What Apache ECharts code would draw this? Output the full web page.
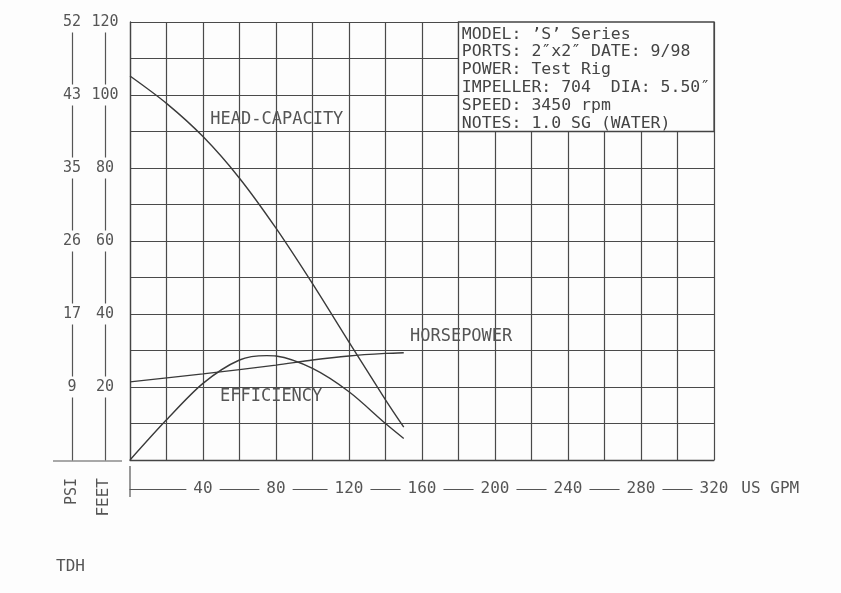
<!DOCTYPE html>
<html>
<head>
<meta charset="utf-8">
<script src="https://cdn.jsdelivr.net/npm/echarts@6/dist/echarts.min.js"></script>
<style>html,body{margin:0;padding:0;background:#fdfdfd;}#c{width:841px;height:593px;}</style>
</head>
<body>
<div id="c"></div>
<script>
// ---- data ----
const headGpm = [0, 20, 40, 60, 80, 100, 120, 140, 150];
const headFt  = [105.2, 97.7, 88.6, 77.2, 63.5, 48.3, 32.3, 16.5, 9];

const effGpm = [0, 20, 40, 60, 75, 80, 100, 120, 140, 150];
const effVal = [0, 11, 21, 27.4, 28.6, 28.5, 25.1, 18.7, 10, 5.9];

const hpGpm = [0, 40, 80, 100, 120, 140, 150];
const hpVal = [21.4, 23.6, 26, 27.4, 28.5, 29.2, 29.4];

const feetTicks = [20, 40, 60, 80, 100, 120];
const psiTicks  = ['9', '17', '26', '35', '43', '52'];
const gpmTicks  = [40, 80, 120, 160, 200, 240, 280, 320];

const infoLines = [
  "MODEL: \u2019S\u2019 Series",
  "PORTS: 2\u2033x2\u2033 DATE: 9/98",
  "POWER: Test Rig",
  "IMPELLER: 704  DIA: 5.50\u2033",
  "SPEED: 3450 rpm",
  "NOTES: 1.0 SG (WATER)"
];

// ---- styling ----
const FONT = 'DejaVu Sans Mono';
const BG = '#fdfdfd';
const INK = '#3a3a3a';
const TXT = '#555';

const zip = (a, b) => a.map((v, i) => [v, b[i]]);

const chart = echarts.init(document.getElementById('c'), null, {renderer: 'canvas'});

const lineStyle = {color: INK, width: 1.4};
const curveLabel = {show: true, position: 'right', distance: 0, color: TXT, fontFamily: FONT, fontSize: 17, formatter: p => p.name};

const option = {
  backgroundColor: BG,
  animation: false,
  grid: {left: 130, top: 22, width: 584, height: 438},
  xAxis: [
    {
      type: 'value', min: 0, max: 320, interval: 20,
      axisLine: {show: true, lineStyle: {color: '#444', width: 1.3}},
      axisTick: {show: false}, axisLabel: {show: false},
      splitLine: {show: true, lineStyle: {color: '#4a4a4a', width: 1.2}}
    },
    {
      type: 'value', min: 0, max: 320, interval: 40, position: 'bottom', offset: 29,
      axisLine: {show: true, onZero: false, lineStyle: {color: '#555', width: 1.2}},
      axisTick: {show: false}, splitLine: {show: false},
      axisLabel: {
        show: true, showMinLabel: false, margin: 0, verticalAlign: 'middle',
        backgroundColor: BG, padding: [3, 7], color: TXT, fontFamily: FONT, fontSize: 16,
        formatter: v => (gpmTicks.indexOf(v) >= 0 ? String(v) : '')
      },
      name: 'US GPM', nameLocation: 'end', nameGap: 26,
      nameTextStyle: {color: TXT, fontFamily: FONT, fontSize: 16, verticalAlign: 'middle'}
    }
  ],
  yAxis: [
    {
      type: 'value', min: 0, max: 120, interval: 10,
      axisLine: {show: true, lineStyle: {color: '#444', width: 1.3}},
      axisTick: {show: false}, axisLabel: {show: false},
      splitLine: {show: true, lineStyle: {color: '#4a4a4a', width: 1.2}}
    },
    {
      type: 'value', min: 0, max: 120, interval: 20, position: 'left', offset: 25,
      axisLine: {show: true, onZero: false, lineStyle: {color: '#555', width: 1.2}},
      axisTick: {show: false}, splitLine: {show: false},
      axisLabel: {
        show: true, showMinLabel: false, margin: 0, align: 'center',
        backgroundColor: BG, padding: [3, 1], color: TXT, fontFamily: FONT, fontSize: 15,
        formatter: v => (feetTicks.indexOf(v) >= 0 ? String(v) : '')
      }
    },
    {
      type: 'value', min: 0, max: 120, interval: 20, position: 'left', offset: 58,
      axisLine: {show: true, onZero: false, lineStyle: {color: '#555', width: 1.2}},
      axisTick: {show: false}, splitLine: {show: false},
      axisLabel: {
        show: true, showMinLabel: false, margin: 0, align: 'center',
        backgroundColor: BG, padding: [3, 1], color: TXT, fontFamily: FONT, fontSize: 15,
        formatter: v => { const i = feetTicks.indexOf(v); return i >= 0 ? psiTicks[i] : ''; }
      }
    }
  ],
  series: [
    {
      name: 'Head-Capacity', type: 'line', xAxisIndex: 0, yAxisIndex: 0,
      data: zip(headGpm, headFt), smooth: 0.3, showSymbol: false, symbol: 'none',
      lineStyle: lineStyle, z: 3,
      markPoint: {
        symbol: 'circle', symbolSize: 0, label: curveLabel,
        data: [{name: 'HEAD-CAPACITY', coord: [44, 93.2]}]
      },
      markArea: {
        silent: true,
        itemStyle: {color: BG, borderColor: '#444', borderWidth: 1.3, opacity: 1},
        label: {
          show: true, position: 'insideTopLeft', distance: 4,
          color: '#444', fontFamily: FONT, fontSize: 16.5, lineHeight: 17.8,
          formatter: () => infoLines.join('\n')
        },
        data: [[{coord: [180, 120]}, {coord: [320, 90]}]]
      }
    },
    {
      name: 'Efficiency', type: 'line', xAxisIndex: 0, yAxisIndex: 0,
      data: zip(effGpm, effVal), smooth: 0.3, showSymbol: false, symbol: 'none',
      lineStyle: lineStyle, z: 3,
      markPoint: {
        symbol: 'circle', symbolSize: 0, label: curveLabel,
        data: [{name: 'EFFICIENCY', coord: [49.3, 17.5]}]
      }
    },
    {
      name: 'Horsepower', type: 'line', xAxisIndex: 0, yAxisIndex: 0,
      data: zip(hpGpm, hpVal), smooth: 0.3, showSymbol: false, symbol: 'none',
      lineStyle: lineStyle, z: 3,
      markPoint: {
        symbol: 'circle', symbolSize: 0, label: curveLabel,
        data: [{name: 'HORSEPOWER', coord: [153.4, 33.7]}]
      }
    }
  ]
};

chart.setOption(option);

const x0 = chart.convertToPixel({xAxisIndex: 0}, 0);
const yB = chart.convertToPixel({yAxisIndex: 0}, 0);

chart.setOption({
  graphic: [
    {type: 'line', shape: {x1: x0 - 77, y1: yB + 1, x2: x0 - 8, y2: yB + 1}, style: {stroke: '#555', lineWidth: 1.2}, z: 10},
    {type: 'line', shape: {x1: x0, y1: yB + 6, x2: x0, y2: yB + 37}, style: {stroke: '#555', lineWidth: 1.2}, z: 10},
    {type: 'text', x: x0 - 58, y: yB + 18, rotation: Math.PI / 2,
     style: {text: 'PSI', fill: TXT, font: '15px ' + FONT, textAlign: 'right', textVerticalAlign: 'middle'}, z: 10},
    {type: 'text', x: x0 - 26, y: yB + 18, rotation: Math.PI / 2,
     style: {text: 'FEET', fill: TXT, font: '16px ' + FONT, textAlign: 'right', textVerticalAlign: 'middle'}, z: 10},
    {type: 'text', x: 56, y: yB + 107,
     style: {text: 'TDH', fill: TXT, font: '16px ' + FONT, textAlign: 'left', textVerticalAlign: 'middle'}, z: 10}
  ]
});
</script>
</body>
</html>
